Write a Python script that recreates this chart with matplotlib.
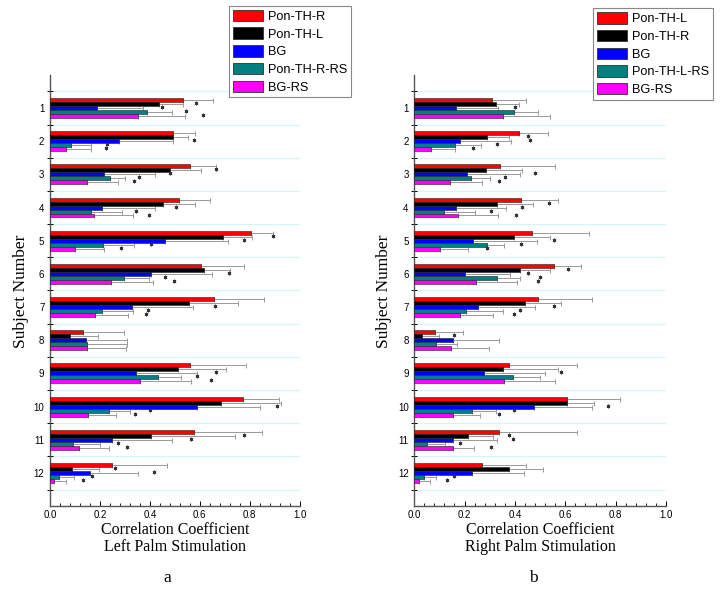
import matplotlib
matplotlib.use("Agg")
import matplotlib.pyplot as plt
import numpy as np
from matplotlib.patches import Patch
from matplotlib.ticker import MultipleLocator, FixedLocator

nan = np.nan
SUBJECTS = [str(i) for i in range(1, 13)]
COLORS = ["#ff0000", "#000000", "#0000ff", "#008080", "#ff00ff"]

LEFT_LABELS = ["Pon-TH-R", "Pon-TH-L", "BG", "Pon-TH-R-RS", "BG-RS"]
RIGHT_LABELS = ["Pon-TH-L", "Pon-TH-R", "BG", "Pon-TH-L-RS", "BG-RS"]

# rows: series in legend order, columns: subjects 1..12
LEFT_VALUES = [
    [0.533, 0.492, 0.559, 0.516, 0.804, 0.604, 0.655, 0.131, 0.561, 0.773, 0.577, 0.249],
    [0.435, 0.492, 0.480, 0.453, 0.692, 0.615, 0.557, 0.080, 0.511, 0.684, 0.403, 0.088],
    [0.187, 0.277, 0.217, 0.207, 0.459, 0.403, 0.328, 0.144, 0.343, 0.587, 0.247, 0.161],
    [0.388, 0.083, 0.240, 0.163, 0.211, 0.295, 0.207, 0.147, 0.431, 0.236, 0.091, 0.035],
    [0.351, 0.063, 0.147, 0.176, 0.101, 0.245, 0.180, 0.149, 0.360, 0.153, 0.115, 0.016],
]
LEFT_ERRORS = [
    [0.120, 0.088, 0.104, 0.124, 0.089, 0.172, 0.201, 0.166, 0.222, 0.144, 0.270, 0.218],
    [0.096, 0.060, 0.123, 0.127, 0.115, 0.105, 0.196, 0.113, 0.193, 0.239, 0.337, 0.109],
    [0.187, 0.214, 0.204, 0.214, 0.252, 0.245, 0.245, 0.165, 0.246, 0.253, 0.242, 0.190],
    [0.100, 0.081, 0.060, 0.124, 0.124, 0.101, 0.126, 0.160, 0.092, 0.084, 0.109, 0.061],
    [0.190, 0.100, 0.127, 0.157, 0.115, 0.168, 0.133, 0.154, 0.203, 0.110, 0.122, 0.048],
]
LEFT_STARS = [
    [nan] * 12,
    [0.584, nan, 0.664, nan, 0.891, nan, nan, nan, nan, nan, 0.777, 0.261],
    [0.447, 0.577, 0.480, 0.504, 0.776, 0.715, 0.660, nan, 0.664, 0.909, 0.563, 0.416],
    [0.544, 0.229, 0.357, 0.344, 0.403, 0.460, 0.393, nan, 0.589, 0.400, 0.272, 0.169],
    [0.613, 0.224, 0.336, 0.396, 0.284, 0.495, 0.384, nan, 0.643, 0.339, 0.308, 0.131],
]

RIGHT_VALUES = [
    [0.308, 0.417, 0.341, 0.426, 0.466, 0.554, 0.493, 0.081, 0.378, 0.608, 0.335, 0.270],
    [0.324, 0.290, 0.286, 0.328, 0.397, 0.419, 0.442, 0.032, 0.353, 0.605, 0.212, 0.376],
    [0.167, 0.184, 0.209, 0.168, 0.233, 0.201, 0.254, 0.156, 0.278, 0.475, 0.156, 0.229],
    [0.396, 0.164, 0.225, 0.118, 0.291, 0.329, 0.205, 0.087, 0.394, 0.228, 0.050, 0.038],
    [0.351, 0.065, 0.144, 0.176, 0.102, 0.245, 0.181, 0.148, 0.357, 0.155, 0.155, 0.019],
]
RIGHT_ERRORS = [
    [0.135, 0.115, 0.220, 0.144, 0.227, 0.109, 0.213, 0.113, 0.270, 0.208, 0.312, 0.176],
    [0.093, 0.087, 0.141, 0.144, 0.144, 0.122, 0.141, 0.067, 0.217, 0.110, 0.102, 0.136],
    [0.167, 0.201, 0.212, 0.196, 0.255, 0.179, 0.225, 0.180, 0.243, 0.231, 0.173, 0.206],
    [0.097, 0.103, 0.075, 0.123, 0.065, 0.093, 0.146, 0.084, 0.106, 0.097, 0.071, 0.050],
    [0.188, 0.099, 0.127, 0.155, 0.112, 0.165, 0.132, 0.150, 0.204, 0.106, 0.083, 0.045],
]
RIGHT_STARS = [
    [nan] * 12,
    [nan, 0.452, nan, 0.536, nan, 0.611, nan, 0.160, nan, nan, 0.378, nan],
    [0.401, 0.460, 0.481, 0.427, 0.557, 0.452, 0.557, nan, 0.581, 0.770, 0.394, nan],
    [nan, 0.327, 0.362, 0.304, 0.425, 0.499, 0.419, nan, nan, 0.397, 0.184, 0.159],
    [nan, 0.234, 0.335, 0.406, 0.288, 0.492, 0.398, nan, nan, 0.337, 0.307, 0.131],
]

SERIF = ["Liberation Serif", "DejaVu Serif"]
SANS = ["Liberation Sans", "DejaVu Sans"]
BAR_H = 0.12

fig = plt.figure(figsize=(7.24, 5.94), dpi=100)


def draw_panel(rect, values, errors, stars, labels, xlabel, letter, legend_rect, ylabel_x):
    ax = fig.add_axes(rect)
    y = np.arange(1, len(SUBJECTS) + 1)
    for k, (vals, errs, st) in enumerate(zip(values, errors, stars)):
        yy = y + (k - 2) * BAR_H
        ax.barh(yy, vals, height=BAR_H, color=COLORS[k], edgecolor="#202020",
                linewidth=0.4, zorder=3)
        ax.errorbar(vals, yy, xerr=[np.zeros(len(vals)), errs], fmt="none",
                    ecolor="#9a9a9a", elinewidth=0.7, capsize=1.8, capthick=0.7,
                    zorder=2)
        ax.plot(st, yy - 0.03, linestyle="none", marker=(6, 2, 0), markersize=2.6,
                color="#333333", markeredgewidth=0.6, zorder=4)

    ax.set_xlim(0, 1.0)
    ax.set_ylim(13, 0)
    for yb in np.arange(0.5, 13, 1.0):
        ax.axhline(yb, color="#d2f6f9", linewidth=0.8, zorder=1)

    ax.set_yticks(y)
    ax.set_yticklabels(SUBJECTS, fontfamily=SANS, fontsize=7)
    ax.yaxis.set_minor_locator(FixedLocator(np.arange(0.5, 13, 1.0)))
    ax.tick_params(axis="y", which="major", length=0, pad=4)
    ax.tick_params(axis="y", which="minor", length=4, direction="inout", width=0.7)

    ax.xaxis.set_major_locator(MultipleLocator(0.2))
    ax.xaxis.set_minor_locator(MultipleLocator(0.04))
    ax.set_xticklabels([f"{v:.1f}" for v in ax.get_xticks()], fontfamily=SANS, fontsize=7)
    ax.tick_params(axis="x", which="major", direction="in", length=3.5, width=0.7, pad=3)
    ax.tick_params(axis="x", which="minor", direction="in", length=2, width=0.6)

    for side in ("top", "right"):
        ax.spines[side].set_visible(False)
    for side in ("left", "bottom"):
        ax.spines[side].set_color("#555555")
        ax.spines[side].set_linewidth(1.0)

    ax.set_xlabel(xlabel, fontfamily=SERIF, fontsize=11.5, linespacing=1.05, labelpad=1.5)
    fig.text(ylabel_x, 0.5 + 0.01, "Subject Number", rotation=90, ha="center",
             va="center", fontfamily=SERIF, fontsize=12.5)
    fig.text(rect[0] + rect[2] / 2 - 0.01, 0.027, letter, ha="center", va="center",
             fontfamily=SERIF, fontsize=12.5)

    handles = [Patch(facecolor=c, edgecolor="#303030", linewidth=0.6) for c in COLORS]
    leg = fig.legend(handles, labels, loc="upper left", bbox_to_anchor=legend_rect,
                     prop={"family": SANS, "size": 9.2}, frameon=True, fancybox=False,
                     framealpha=1, edgecolor="#888888", handlelength=2.4,
                     handleheight=1.0, handletextpad=0.35, labelspacing=0.36,
                     borderpad=0.3, borderaxespad=0)
    leg.get_frame().set_linewidth(0.8)
    return ax


draw_panel([0.069, 0.148, 0.345, 0.726], LEFT_VALUES, LEFT_ERRORS, LEFT_STARS,
           LEFT_LABELS, "Correlation Coefficient\nLeft Palm Stimulation", "a",
           (0.316, 0.99), 0.029)
draw_panel([0.572, 0.148, 0.348, 0.726], RIGHT_VALUES, RIGHT_ERRORS, RIGHT_STARS,
           RIGHT_LABELS, "Correlation Coefficient\nRight Palm Stimulation", "b",
           (0.819, 0.986), 0.531)

fig.savefig("out.png", dpi=100)
